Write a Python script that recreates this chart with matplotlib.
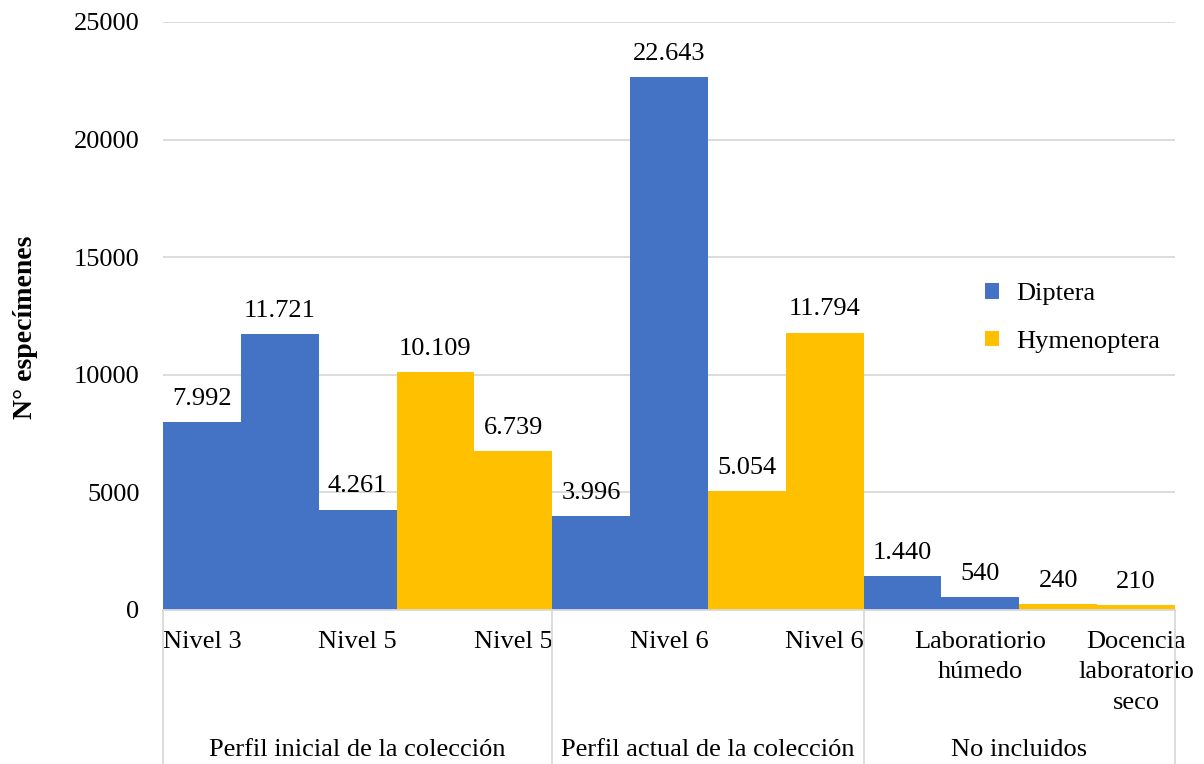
import matplotlib
matplotlib.use("Agg")
import matplotlib.pyplot as plt
import matplotlib.transforms as mtransforms
from matplotlib.patches import Patch

plt.rcParams['font.family'] = ['Liberation Serif', 'DejaVu Serif']

# ---- data ----
values = [7992, 11721, 4261, 10109, 6739, 3996, 22643, 5054, 11794, 1440, 540, 240, 210]
value_labels = ["7.992", "11.721", "4.261", "10.109", "6.739", "3.996", "22.643",
                "5.054", "11.794", "1.440", "540", "240", "210"]
orders = ["Diptera", "Diptera", "Diptera", "Hymenoptera", "Hymenoptera",
          "Diptera", "Diptera", "Hymenoptera", "Hymenoptera",
          "Diptera", "Diptera", "Hymenoptera", "Hymenoptera"]
tick_labels = ["Nivel 3", "", "Nivel 5", "", "Nivel 5",
               "", "Nivel 6", "", "Nivel 6",
               "", "Laboratiorio\nhúmedo", "", "Docencia\nlaboratorio\nseco"]
groups = ["Perfil inicial de la colección", "Perfil actual de la colección", "No incluidos"]
group_sizes = [5, 4, 4]
y_ticks = [0, 5000, 10000, 15000, 20000, 25000]
legend_names = ["Diptera", "Hymenoptera"]

colors = {"Diptera": "#4472C4", "Hymenoptera": "#FFC000"}
FS = 19

fig = plt.figure(figsize=(12.04, 7.64), dpi=100)
ax = fig.add_axes([163/1204, 1-610/764, (1175-163)/1204, (610-22)/764])

x = list(range(len(values)))
ax.bar(x, values, width=1.0, color=[colors[o] for o in orders], zorder=2, linewidth=0)

ax.set_xlim(-0.5, len(values) - 0.5)
ax.set_ylim(0, 25000)
ax.set_yticks(y_ticks)
ax.set_yticklabels([str(t) for t in y_ticks], fontsize=FS)
ax.yaxis.grid(True, color="#D9D9D9", linewidth=1.3, zorder=0)
ax.set_axisbelow(True)
ax.tick_params(axis='y', length=0, pad=17)
for s in ["top", "right", "left"]:
    ax.spines[s].set_visible(False)
ax.spines["bottom"].set_color("#D9D9D9")
ax.spines["bottom"].set_linewidth(1.3)

# category labels
ax.set_xticks(x)
ax.set_xticklabels(tick_labels, fontsize=FS, linespacing=1.5)
ax.tick_params(axis='x', length=0, pad=15)

# data labels
for xi, v, lab in zip(x, values, value_labels):
    ax.annotate(lab, (xi, v), xytext=(0, 12.5), textcoords="offset points",
                ha="center", va="baseline", fontsize=FS, zorder=3)

# group separators and labels
trans = mtransforms.blended_transform_factory(ax.transData, ax.transAxes)
bottom_ax = -(764 - 610) / 588
start = -0.5
bounds = [start]
for g, n in zip(groups, group_sizes):
    end = start + n
    ax.text((start + end) / 2, -(750 - 610) / 588, g, transform=trans,
            ha="center", va="center", fontsize=FS)
    bounds.append(end)
    start = end
for b in bounds:
    ax.plot([b, b], [0, bottom_ax], transform=trans, color="#D9D9D9",
            linewidth=1.3, clip_on=False)

ax.set_ylabel("N° especímenes", fontsize=20, fontweight="bold")
ax.yaxis.set_label_coords(-(163 - 38) / 1012, (610 - 327) / 588)

handles = [Patch(facecolor=colors[n], edgecolor="none") for n in legend_names]
leg = ax.legend(handles, legend_names, loc="center left",
                bbox_to_anchor=((974 - 163) / 1012, (610 - 318) / 588),
                frameon=False, fontsize=FS, handlelength=0.55, handleheight=0.55,
                handletextpad=0.65, labelspacing=0.95, borderaxespad=0)

fig.savefig("out.png", dpi=100)
